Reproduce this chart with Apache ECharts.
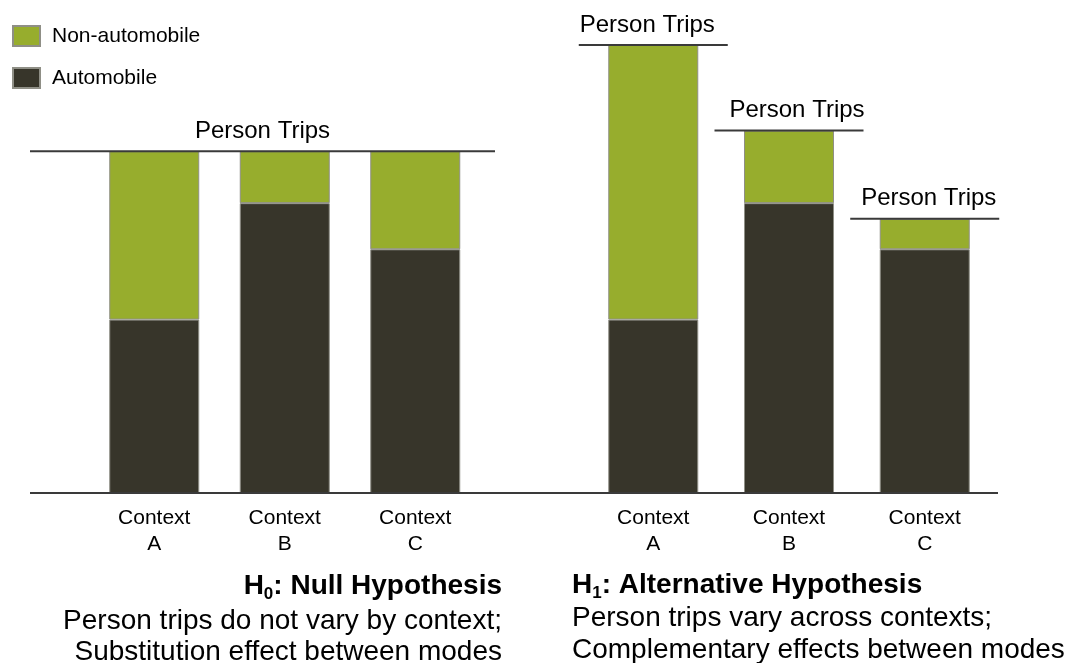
<!DOCTYPE html>
<html>
<head>
<meta charset="utf-8">
<script src="https://cdn.jsdelivr.net/npm/echarts@6/dist/echarts.min.js"></script>
<style>
html,body{margin:0;padding:0;background:#fff;}
#chart{width:1065px;height:663px;}
</style>
</head>
<body>
<div id="chart"></div>
<script>
// ---- data ----
var categories = ['Context\nA', 'Context\nB', 'Context\nC'];
var seriesNames = ['Non-automobile', 'Automobile'];
var nullAuto = [38.7, 64.7, 54.4];
var nullNonAuto = [37.6, 11.6, 21.9];
var altAuto = [38.7, 64.7, 54.4];
var altNonAuto = [61.3, 16.2, 6.8];
var totalLabel = 'Person Trips';
var nullTitle = ['H', '0', ': Null Hypothesis'];
var nullLines = ['Person trips do not vary by context;', 'Substitution effect between modes'];
var altTitle = ['H', '1', ': Alternative Hypothesis'];
var altLines = ['Person trips vary across contexts;', 'Complementary effects between modes'];

// ---- derived ----
function sum(a, b) { return a.map(function (v, i) { return Math.round((v + b[i]) * 10) / 10; }); }
var nullTotals = sum(nullAuto, nullNonAuto);
var altTotals = sum(altAuto, altNonAuto);

// ---- styling ----
var FONT = '"Liberation Sans", Arial, sans-serif';
var GREEN = '#97ad2d';
var DARK = '#37352a';
var LINE = '#3a3a3a';
var altLabelShift = [-6, 8, 4];   // horizontal nudges of the "Person Trips" captions (px)

var chart = echarts.init(document.getElementById('chart'));

function barSeries(name, data, idx, stack, color) {
  return {
    name: name, type: 'bar', stack: stack, data: data,
    xAxisIndex: idx, yAxisIndex: idx, barWidth: 90,
    itemStyle: { color: color, borderColor: '#8f8f86', borderWidth: 1 },
    emphasis: { disabled: true }, silent: true
  };
}

function textEl(x, y, text, align) {
  return {
    type: 'text', x: x, y: y, silent: true,
    style: { text: text, font: '28px ' + FONT, fill: '#000', textAlign: align, textVerticalAlign: 'middle' }
  };
}
function titleEl(x, y, parts, align) {
  return {
    type: 'text', x: x, y: y, silent: true,
    style: {
      text: '{b|' + parts[0] + '}{s|' + parts[1] + '}{b|' + parts[2] + '}',
      textAlign: align, textVerticalAlign: 'middle',
      rich: {
        b: { fontFamily: FONT, fontSize: 28, fontWeight: 'bold', fill: '#000', lineHeight: 34 },
        s: { fontFamily: FONT, fontSize: 17, fontWeight: 'bold', fill: '#000', lineHeight: 14, verticalAlign: 'bottom' }
      }
    }
  };
}

var option = {
  animation: false,
  backgroundColor: '#fff',
  legend: {
    data: seriesNames,
    orient: 'vertical', left: 7, top: 20,
    itemWidth: 27, itemHeight: 20, itemGap: 20,
    icon: 'rect', selectedMode: false,
    textStyle: { fontFamily: FONT, fontSize: 21, color: '#000', padding: [0, 0, 0, 7] }
  },
  grid: [
    { left: 89, right: 584.5, top: 45, bottom: 170 },
    { left: 585.4, right: 72.4, top: 45, bottom: 170 }
  ],
  xAxis: [0, 1].map(function (i) {
    return {
      type: 'category', gridIndex: i, data: categories,
      axisLine: { show: false }, axisTick: { show: false },
      axisLabel: { fontFamily: FONT, fontSize: 21, color: '#000', lineHeight: 26, margin: 12 }
    };
  }),
  yAxis: [0, 1].map(function (i) {
    return { type: 'value', gridIndex: i, min: 0, max: 100, show: false, splitLine: { show: false } };
  }),
  series: [
    barSeries('Automobile', nullAuto, 0, 'L', DARK),
    barSeries('Non-automobile', nullNonAuto, 0, 'L', GREEN),
    barSeries('Automobile', altAuto, 1, 'R', DARK),
    barSeries('Non-automobile', altNonAuto, 1, 'R', GREEN),
    {
      type: 'custom', xAxisIndex: 0, yAxisIndex: 0, z: 5, silent: true,
      data: [[0, Math.max.apply(null, nullTotals)]],
      encode: { x: 0, y: 1 },
      renderItem: function (params, api) {
        var cs = params.coordSys;
        var p = api.coord([api.value(0), api.value(1)]);
        var x1 = cs.x - 59, x2 = cs.x + cs.width + 14.5;
        return {
          type: 'group', children: [
            { type: 'line', shape: { x1: x1, y1: p[1], x2: x2, y2: p[1] }, style: { stroke: LINE, lineWidth: 2 } },
            { type: 'text', x: (x1 + x2) / 2, y: p[1] - 20, style: { text: totalLabel, font: '24px ' + FONT, fill: '#000', textAlign: 'center', textVerticalAlign: 'middle' } }
          ]
        };
      }
    },
    {
      type: 'custom', xAxisIndex: 1, yAxisIndex: 1, z: 5, silent: true,
      data: altTotals.map(function (v, i) { return [i, v]; }),
      encode: { x: 0, y: 1 },
      renderItem: function (params, api) {
        var p = api.coord([api.value(0), api.value(1)]);
        var dx = altLabelShift[params.dataIndex] || 0;
        return {
          type: 'group', children: [
            { type: 'line', shape: { x1: p[0] - 74.5, y1: p[1], x2: p[0] + 74.5, y2: p[1] }, style: { stroke: LINE, lineWidth: 2 } },
            { type: 'text', x: p[0] + dx, y: p[1] - 20, style: { text: totalLabel, font: '24px ' + FONT, fill: '#000', textAlign: 'center', textVerticalAlign: 'middle' } }
          ]
        };
      }
    }
  ],
  graphic: [
    { type: 'line', z: 10, silent: true, shape: { x1: 30, y1: 493, x2: 998, y2: 493 }, style: { stroke: LINE, lineWidth: 2 } },
    titleEl(502, 586, nullTitle, 'right'),
    textEl(502, 621, nullLines[0], 'right'),
    textEl(502, 652, nullLines[1], 'right'),
    titleEl(572, 585, altTitle, 'left'),
    textEl(572, 618, altLines[0], 'left'),
    textEl(572, 650, altLines[1], 'left')
  ]
};
chart.setOption(option);
</script>
</body>
</html>
